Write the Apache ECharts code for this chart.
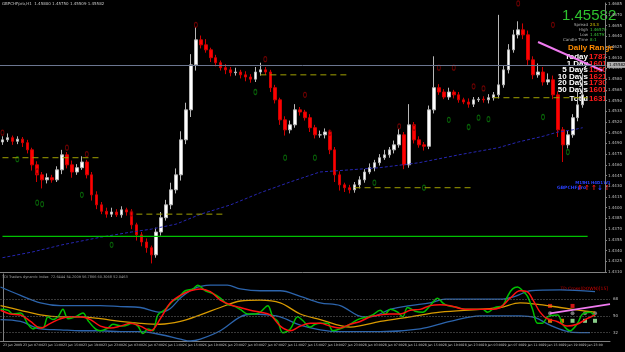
<!DOCTYPE html>
<html>
<head>
<meta charset="utf-8">
<script src="https://cdn.jsdelivr.net/npm/echarts/dist/echarts.min.js"></script>
<style>
  html, body { margin: 0; background: #000; }
  #chart { width: 625px; height: 352px; }
</style>
</head>
<body>
<div id="chart"></div>
<script>
// GBPCHF H1 bars
const opens = [
  1.4492, 1.4495, 1.4498, 1.4493, 1.4496, 1.4491, 1.4481, 1.4460, 1.4446, 1.4439,
  1.4442, 1.4439, 1.4453, 1.4474, 1.4460, 1.4450, 1.4456, 1.4464, 1.4446, 1.4418,
  1.4404, 1.4395, 1.4391, 1.4394, 1.4390, 1.4397, 1.4394, 1.4376, 1.4362, 1.4352,
  1.4344, 1.4334, 1.4366, 1.4386, 1.4404, 1.4425, 1.4446, 1.4495, 1.4537, 1.4600,
  1.4635, 1.4628, 1.4621, 1.4610, 1.4603, 1.4596, 1.4593, 1.4589, 1.4590, 1.4586,
  1.4583, 1.4580, 1.4590, 1.4593, 1.4590, 1.4568, 1.4551, 1.4523, 1.4509, 1.4516,
  1.4537, 1.4534, 1.4526, 1.4512, 1.4502, 1.4502, 1.4506, 1.4481, 1.4446, 1.4432,
  1.4428, 1.4425, 1.4432, 1.4439, 1.4450, 1.4456, 1.4463, 1.4470, 1.4474, 1.4481,
  1.4488, 1.4502, 1.4460, 1.4516, 1.4495, 1.4488, 1.4486, 1.4537, 1.4568, 1.4562,
  1.4555, 1.4562, 1.4558, 1.4551, 1.4548, 1.4545, 1.4551, 1.4552, 1.4551, 1.4554,
  1.4558, 1.4572, 1.4593, 1.4621, 1.4642, 1.4649, 1.4642, 1.4607, 1.4586, 1.4590,
  1.4576, 1.4579, 1.4558, 1.4509, 1.4488, 1.4502, 1.4526, 1.4544
];
const closes = [
  1.4495, 1.4498, 1.4493, 1.4496, 1.4491, 1.4481, 1.4460, 1.4446, 1.4439, 1.4442,
  1.4439, 1.4453, 1.4474, 1.4460, 1.4450, 1.4456, 1.4464, 1.4446, 1.4418, 1.4404,
  1.4395, 1.4391, 1.4394, 1.4390, 1.4397, 1.4394, 1.4376, 1.4362, 1.4352, 1.4344,
  1.4334, 1.4366, 1.4386, 1.4404, 1.4425, 1.4446, 1.4495, 1.4537, 1.4600, 1.4635,
  1.4628, 1.4621, 1.4610, 1.4603, 1.4596, 1.4593, 1.4589, 1.4590, 1.4586, 1.4583,
  1.4580, 1.4590, 1.4593, 1.4590, 1.4568, 1.4551, 1.4523, 1.4509, 1.4516, 1.4537,
  1.4534, 1.4526, 1.4512, 1.4502, 1.4502, 1.4506, 1.4481, 1.4446, 1.4432, 1.4428,
  1.4425, 1.4432, 1.4439, 1.4450, 1.4456, 1.4463, 1.4470, 1.4474, 1.4481, 1.4488,
  1.4502, 1.4460, 1.4516, 1.4495, 1.4488, 1.4486, 1.4537, 1.4568, 1.4562, 1.4555,
  1.4562, 1.4558, 1.4551, 1.4548, 1.4545, 1.4551, 1.4552, 1.4551, 1.4554, 1.4558,
  1.4572, 1.4593, 1.4621, 1.4642, 1.4649, 1.4642, 1.4607, 1.4586, 1.4590, 1.4576,
  1.4579, 1.4558, 1.4509, 1.4488, 1.4502, 1.4526, 1.4544, 1.4558
];
const highs = [
  1.4500, 1.4504, 1.4501, 1.4500, 1.4499, 1.4495, 1.4484, 1.4465, 1.4450, 1.4448,
  1.4446, 1.4458, 1.4481, 1.4478, 1.4466, 1.4461, 1.4472, 1.4467, 1.4450, 1.4423,
  1.4408, 1.4400, 1.4400, 1.4398, 1.4402, 1.4400, 1.4398, 1.4379, 1.4366, 1.4357,
  1.4347, 1.4372, 1.4394, 1.4411, 1.4435, 1.4455, 1.4507, 1.4547, 1.4615, 1.4653,
  1.4641, 1.4636, 1.4624, 1.4614, 1.4606, 1.4601, 1.4597, 1.4596, 1.4593, 1.4591,
  1.4587, 1.4597, 1.4603, 1.4597, 1.4593, 1.4572, 1.4554, 1.4528, 1.4522, 1.4545,
  1.4541, 1.4537, 1.4531, 1.4516, 1.4508, 1.4511, 1.4509, 1.4485, 1.4451, 1.4435,
  1.4432, 1.4436, 1.4444, 1.4454, 1.4462, 1.4467, 1.4475, 1.4481, 1.4485, 1.4494,
  1.4510, 1.4506, 1.4545, 1.4520, 1.4500, 1.4492, 1.4543, 1.4612, 1.4573, 1.4566,
  1.4568, 1.4565, 1.4562, 1.4554, 1.4553, 1.4555, 1.4555, 1.4556, 1.4559, 1.4562,
  1.4670, 1.4599, 1.4629, 1.4649, 1.4661, 1.4658, 1.4648, 1.4612, 1.4602, 1.4597,
  1.4588, 1.4585, 1.4563, 1.4513, 1.4508, 1.4531, 1.4564, 1.4588
];
const lows = [
  1.4488, 1.4492, 1.4488, 1.4489, 1.4485, 1.4476, 1.4452, 1.4436, 1.4427, 1.4434,
  1.4435, 1.4436, 1.4447, 1.4455, 1.4442, 1.4446, 1.4453, 1.4441, 1.4410, 1.4398,
  1.4391, 1.4386, 1.4387, 1.4387, 1.4386, 1.4389, 1.4370, 1.4354, 1.4346, 1.4337,
  1.4322, 1.4330, 1.4361, 1.4382, 1.4398, 1.4420, 1.4438, 1.4489, 1.4527, 1.4592,
  1.4623, 1.4617, 1.4604, 1.4598, 1.4592, 1.4587, 1.4584, 1.4585, 1.4581, 1.4577,
  1.4575, 1.4576, 1.4585, 1.4586, 1.4562, 1.4546, 1.4516, 1.4501, 1.4504, 1.4512,
  1.4529, 1.4522, 1.4506, 1.4497, 1.4498, 1.4497, 1.4475, 1.4436, 1.4424, 1.4422,
  1.4420, 1.4421, 1.4427, 1.4435, 1.4447, 1.4451, 1.4459, 1.4467, 1.4470, 1.4476,
  1.4484, 1.4454, 1.4456, 1.4490, 1.4484, 1.4480, 1.4482, 1.4532, 1.4558, 1.4552,
  1.4551, 1.4553, 1.4547, 1.4545, 1.4540, 1.4541, 1.4548, 1.4547, 1.4546, 1.4550,
  1.4553, 1.4568, 1.4588, 1.4617, 1.4637, 1.4636, 1.4599, 1.4580, 1.4582, 1.4571,
  1.4572, 1.4552, 1.4499, 1.4464, 1.4483, 1.4498, 1.4521, 1.4540
];

// bottom time labels, one every 4 bars
const timeLabels = [
  '23 Jan 2009', '23 Jan 07:00', '23 Jan 11:00', '23 Jan 15:00', '23 Jan 19:00', '23 Jan 23:00',
  '26 Jan 03:00', '26 Jan 07:00', '26 Jan 11:00', '26 Jan 15:00', '26 Jan 19:00', '26 Jan 23:00',
  '27 Jan 03:00', '27 Jan 07:00', '27 Jan 11:00', '27 Jan 15:00', '27 Jan 19:00', '27 Jan 23:00',
  '28 Jan 03:00', '28 Jan 07:00', '28 Jan 11:00', '28 Jan 15:00', '28 Jan 19:00', '28 Jan 23:00',
  '29 Jan 03:00', '29 Jan 07:00', '29 Jan 11:00', '29 Jan 15:00', '29 Jan 19:00', '29 Jan 23:00'
];
const BAR_SLOTS = 122; // bars plus chart shift on the right

// moving average (bar index, price)
const maPoints = [
  [0, 1.4330], [6, 1.4338], [12, 1.4348], [20, 1.4359], [26, 1.4366], [30, 1.4370],
  [35, 1.4377], [40, 1.4391], [46, 1.4404], [52, 1.4421], [58, 1.4436], [64, 1.4450],
  [70, 1.4453], [76, 1.4456], [84, 1.4463], [92, 1.4474], [100, 1.4484], [104, 1.4492],
  [109, 1.4500], [112, 1.4506], [115, 1.4509], [117, 1.4512]
];
const fractalsUp = [
  [0, 1.4505], [7, 1.4451], [13, 1.4484], [17, 1.4475], [26, 1.4392], [39, 1.4656],
  [53, 1.4608], [61, 1.4558], [66, 1.4505], [80, 1.4514], [83, 1.4512], [88, 1.4596],
  [91, 1.4596], [95, 1.4570], [97, 1.4567], [104, 1.4686], [111, 1.4656]
];
const fractalsDown = [
  [3, 1.4468], [7, 1.4407], [8, 1.4405], [16, 1.4418], [22, 1.4348], [51, 1.4562],
  [57, 1.4470], [63, 1.4470], [75, 1.4435], [85, 1.4428], [90, 1.4523], [94, 1.4513],
  [96, 1.4526], [98, 1.4524], [109, 1.4527], [114, 1.4478]
];
// dashed pivot segments: [from bar, to bar, price]
const pivotSegments = [
  [0, 20, 1.4470], [27, 45, 1.4391], [52, 70, 1.4586], [71, 95, 1.4428], [99, 118, 1.4554]
];
const bidPrice = 1.45582;
const topLevel = 1.4680;
const supportLevel = [[0, 1.4360], [118, 1.4360]];
const pinkTrend = [[108, 1.4632], [121, 1.4592]];

// TDI sub window (bar index, value)
const rsiLine = [
  [-0.5, 57], [1, 56], [2, 52], [3.5, 53], [5, 41], [6, 36], [7, 38], [8, 37], [9, 49], [10, 46],
  [11, 49], [12, 57], [13, 47], [14.5, 49], [16, 53], [17, 45], [18.5, 36], [19.5, 34], [21, 37],
  [22, 41], [24, 39], [26, 42], [27, 39], [28, 31], [29, 36], [30, 34], [31, 51], [32.5, 57],
  [34, 66], [35, 69], [36.5, 77], [38, 79], [39, 83], [40.5, 77], [42, 74], [43.5, 69], [45, 62],
  [46, 61], [47.5, 57], [49, 52], [50.5, 52], [51.5, 54], [53, 61], [54, 49], [55, 44], [56, 32],
  [57.5, 36], [59, 49], [60, 45], [61.5, 38], [62.5, 41], [63.5, 42], [65, 42], [66, 34],
  [67.5, 36], [69.5, 41], [71, 46], [73, 49], [74, 51], [75.5, 56], [76.5, 52], [77.5, 57],
  [79, 54], [80, 49], [81, 59], [82.5, 55], [84, 54], [85.5, 61], [87, 69], [88, 64], [89, 61],
  [91, 59], [92.5, 57], [94, 57], [96, 57], [97, 54], [98.5, 59], [100, 61], [101, 71], [102, 79],
  [103, 81], [104, 77], [105, 71], [106, 57], [107, 42], [108, 42], [109, 49], [111, 51],
  [112, 41], [113.5, 34], [115, 42], [116, 52], [117.5, 54], [118.5, 49]
];
const signalLine = [
  [-0.5, 56], [1.5, 52], [3.5, 51], [5.5, 44], [7.5, 37], [9.5, 42], [11.5, 47], [13.5, 49],
  [15.5, 49], [17.5, 46], [19.5, 39], [21.5, 37], [23.5, 39], [25.5, 42], [27.5, 39], [29.5, 34],
  [31.5, 47], [33.5, 64], [35.5, 72], [37.5, 77], [39.5, 79], [41.5, 76], [43.5, 67], [45.5, 62],
  [47.5, 59], [49.5, 56], [51.5, 54], [53.5, 51], [55.5, 39], [57.5, 34], [59.5, 39], [61.5, 42],
  [63.5, 42], [65.5, 39], [67.5, 37], [69.5, 41], [71.5, 44], [73.5, 49], [75.5, 51], [77.5, 52],
  [79.5, 52], [81.5, 56], [83.5, 57], [85.5, 61], [87.5, 62], [89.5, 61], [91.5, 58], [93.5, 57],
  [95.5, 57], [97.5, 57], [99.5, 59], [101.5, 69], [103.5, 77], [104.9, 76], [106.1, 67],
  [107.5, 54], [108.9, 47], [110.9, 44], [112.9, 39], [114.9, 41], [116.9, 47], [118.5, 51]
];
const baseLine = [
  [-0.5, 61], [3.5, 56], [7.5, 51], [11.5, 49], [15.5, 49], [19.5, 47], [23.5, 44], [27.5, 42],
  [31.5, 41], [35.5, 44], [39.5, 51], [43.5, 59], [47.5, 66], [51.5, 67], [55.5, 64], [59.5, 52],
  [63.5, 46], [69.5, 38], [75.5, 44], [81.5, 49], [87.5, 54], [95.5, 57], [99.5, 59], [103.5, 64],
  [107.5, 62], [111.5, 59], [115.5, 56], [118.5, 54]
];
const upperBand = [
  [-0.5, 81], [3.5, 72], [7.5, 64], [11.5, 61], [15.5, 61], [19.5, 61], [23.5, 60], [27.5, 59],
  [31.5, 54], [33.5, 58], [35.5, 69], [38.1, 79], [41.5, 83], [44.9, 83], [47.5, 79], [51.5, 77],
  [55.5, 77], [59.5, 71], [63.5, 64], [67.5, 61], [72.1, 49], [74.5, 50], [77.5, 57], [81.5, 61],
  [85.5, 64], [88.5, 68], [93.5, 68], [99.5, 68], [102.5, 71], [105.5, 77], [111.5, 78], [118.5, 76]
];
const lowerBand = [
  [-0.5, 46], [3.5, 44], [7.5, 36], [11.5, 35], [15.5, 34], [19.5, 34], [23.5, 33], [27.5, 33],
  [31.5, 30], [35.5, 25], [37.5, 23], [39.5, 25], [43.5, 34], [47.5, 49], [50.1, 52], [52.9, 51],
  [55.5, 49], [59.5, 40], [63.5, 35], [67.5, 33], [75.5, 33], [83.5, 36], [89.5, 44], [95.5, 50],
  [99.5, 50], [103.5, 50], [106.5, 48], [109.5, 40], [112.5, 34], [115.5, 32], [117.5, 32]
];
const tdiLevels = [32, 50, 68];
const tdiPink = [[109.5, 52.7], [121.5, 62.7]];
const tdiGrayDots = [[109.5, 52.7], [114, 52.7], [116.5, 52.7], [118.5, 52.7]];
const tdiOrangeSq = [[109.5, 44.7], [111.9, 44.7]];
const tdiGreenSq = [[114, 44.7], [116.5, 44.7], [118.5, 44.7]];
const tdiRedMarks = [[109.5, 60.7], [114, 60.7]];

// info panel texts
const infoLabels = ['Spread', 'High', 'Low', 'Candle Time'];
const infoValues = ['24.3', '1.46570', '1.44791', '8:1'];
const rangeLabels = ['Today', '1 Day', '5 Days', '10 Days', '20 Days', '50 Days', 'Total'];
const rangeValues = ['1787', '1601', '1560', '1621', '1730', '1601', '1631'];
const mtfLabels = ['M15', 'H1', 'H4', 'D1', 'W1'];
const mtfArrows = ['↑', '↑', '↑', '↓', '↑'];

const categories = [];
for (let i = 0; i < BAR_SLOTS; i++) {
  categories.push(i % 4 === 0 && timeLabels[i / 4] ? timeLabels[i / 4] : '');
}
const candles = opens.map((o, i) => [o, closes[i], lows[i], highs[i]]);

const FONT = 'DejaVu Sans';
const tiny = { color: '#c0c0c0', fontSize: 4, fontFamily: FONT };

function text(x, y, str, fill, font, align) {
  return { type: 'text', x, y, silent: true,
    style: { text: str, fill, font, align: align || 'left', verticalAlign: 'middle' } };
}

const graphics = [
  text(2, 4, 'GBPCHFpro,H1  1.45800 1.45750 1.45509 1.45582', '#c8c8c8', '4px ' + FONT),
  text(2, 277, 'TDI Traders dynamic index  72.6444 54.2009 56.7866 60.3068 52.0463', '#a0a0a0', '3.5px ' + FONT),
  text(562, 16, '1.45582', '#2ec22e', '15px Liberation Sans'),
  text(568, 48, 'Daily Range', '#ff8c00', 'bold 8px Liberation Sans'),
  text(608, 289, 'TD Cross(DOWN)[15]', '#d00000', '4.5px ' + FONT, 'right'),
  text(557, 188, 'GBPCHFpro', '#2a40ff', 'bold 4.5px ' + FONT)
];
infoLabels.forEach((l, i) => {
  graphics.push(text(588, 25 + i * 5, l, '#b0b0b0', '4px ' + FONT, 'right'));
  graphics.push(text(590, 25 + i * 5, infoValues[i], i === 0 ? '#e0d000' : '#3ccf3c', '4px ' + FONT));
});
rangeLabels.forEach((l, i) => {
  const y = i === rangeLabels.length - 1 ? 99 : 57 + i * 6.5;
  graphics.push(text(588, y, l, '#ffffff', 'bold 8px Liberation Sans', 'right'));
  graphics.push(text(589, y, rangeValues[i], '#ff1a1a', 'bold 8px Liberation Sans'));
});
const mtfX = [580, 587, 594, 600, 607];
mtfLabels.forEach((l, i) => {
  graphics.push(text(mtfX[i], 183, l, '#2a40ff', 'bold 4px ' + FONT, 'center'));
  graphics.push(text(mtfX[i], 188, mtfArrows[i], mtfArrows[i] === '↓' ? '#2a40ff' : '#ff1a1a', 'bold 7px ' + FONT, 'center'));
});

const pivotSeries = pivotSegments.map(s => ({
  type: 'line', xAxisIndex: 0, yAxisIndex: 0, symbol: 'none', silent: true,
  data: [[s[0], s[2]], [s[1], s[2]]],
  lineStyle: { color: '#a0a000', width: 1, type: [6, 4] }
}));

const tdiLine = (data, color, width) => ({
  type: 'line', xAxisIndex: 2, yAxisIndex: 1, symbol: 'none', smooth: 0.35, silent: true,
  data, lineStyle: { color, width: width || 1.3 }
});
const tdiMarks = (data, symbol, color, size) => ({
  type: 'scatter', xAxisIndex: 2, yAxisIndex: 1, symbol, symbolSize: size || 4, silent: true,
  data, itemStyle: { color }
});

const option = {
  backgroundColor: '#000000',
  animation: false,
  grid: [
    { left: 0, right: 15, top: 3, height: 269 },
    { left: 0, right: 15, top: 274, height: 67 }
  ],
  xAxis: [
    { type: 'category', gridIndex: 0, data: categories, boundaryGap: true,
      axisLine: { lineStyle: { color: '#808080' } }, axisTick: { show: false }, axisLabel: { show: false } },
    { type: 'category', gridIndex: 1, data: categories, boundaryGap: true,
      axisLine: { lineStyle: { color: '#808080' } },
      axisTick: { length: 2, lineStyle: { color: '#808080' }, interval: (i, v) => v !== '' },
      axisLabel: Object.assign({}, tiny, { fontSize: 3.2, interval: 0, align: 'left', margin: 3 }) },
    { type: 'value', gridIndex: 1, min: -0.5, max: BAR_SLOTS - 0.5, show: false }
  ],
  yAxis: [
    { type: 'value', gridIndex: 0, position: 'right', min: 1.4310, max: 1.4310 + 269 * 0.00014,
      interval: 0.0015, splitLine: { show: false },
      axisLine: { show: true, lineStyle: { color: '#808080' } },
      axisTick: { show: true, length: 2, lineStyle: { color: '#808080' } },
      axisLabel: Object.assign({}, tiny, { margin: 3, showMaxLabel: false, formatter: v => v.toFixed(4) }) },
    { type: 'value', gridIndex: 1, position: 'right', min: 23, max: 95, interval: 9,
      splitLine: { show: false },
      axisLine: { show: true, lineStyle: { color: '#808080' } },
      axisTick: { show: false },
      axisLabel: Object.assign({}, tiny, { margin: 3, formatter: v => (tdiLevels.includes(v) ? String(v) : '') }) }
  ],
  graphic: graphics,
  series: [
    {
      type: 'line', xAxisIndex: 0, yAxisIndex: 0, symbol: 'none', silent: true,
      data: maPoints, lineStyle: { color: '#2626b0', width: 1, type: [3, 2] }
    },
    {
      type: 'line', xAxisIndex: 0, yAxisIndex: 0, symbol: 'none', silent: true,
      data: supportLevel, lineStyle: { color: '#00c000', width: 1.2 }
    },
    ...pivotSeries,
    {
      type: 'candlestick', xAxisIndex: 0, yAxisIndex: 0, data: candles, barWidth: 3, silent: true,
      itemStyle: { color: '#ffffff', color0: '#ff0000', borderColor: '#b8b8b8', borderColor0: '#d00000', borderWidth: 1 },
      markLine: {
        silent: true, symbol: 'none',
        data: [
          { yAxis: topLevel, lineStyle: { color: '#2a3a9a', width: 1.2, type: 'solid' }, label: { show: false } },
          { yAxis: bidPrice, lineStyle: { color: '#6b7690', width: 1, type: 'solid' },
            label: { show: true, position: 'end', distance: 2, formatter: '1.45582', fontSize: 4,
              fontFamily: FONT, color: '#000', backgroundColor: '#b0b0b0', padding: [1, 2] } }
        ]
      }
    },
    {
      type: 'scatter', xAxisIndex: 0, yAxisIndex: 0, data: fractalsUp, symbol: 'circle', symbolSize: [3, 5],
      silent: true, itemStyle: { color: 'transparent', borderColor: '#8a0000', borderWidth: 1 }
    },
    {
      type: 'scatter', xAxisIndex: 0, yAxisIndex: 0, data: fractalsDown, symbol: 'circle', symbolSize: [3, 5],
      silent: true, itemStyle: { color: 'transparent', borderColor: '#0a7a0a', borderWidth: 1 }
    },
    {
      type: 'line', xAxisIndex: 0, yAxisIndex: 0, symbol: 'none', silent: true,
      data: pinkTrend, lineStyle: { color: '#f07af0', width: 2 }
    },
    // TDI
    Object.assign(tdiLine(upperBand, '#2c64ac', 1.3), {
      markLine: {
        silent: true, symbol: 'none', label: { show: false },
        lineStyle: { color: '#707070', width: 1, type: [1, 2] },
        data: tdiLevels.map(v => ({ yAxis: v }))
      }
    }),
    tdiLine(lowerBand, '#2c64ac', 1.3),
    tdiLine(baseLine, '#d89a00', 1.3),
    tdiLine(rsiLine, '#00c000', 1.5),
    tdiLine(signalLine, '#ff1010', 1.5),
    Object.assign(tdiLine(tdiPink, '#f07af0', 1.8), { smooth: false }),
    tdiMarks(tdiGrayDots, 'circle', '#909090', 4),
    tdiMarks(tdiOrangeSq, 'rect', '#ff9a00', 4),
    tdiMarks(tdiGreenSq, 'rect', '#aaffaa', 4),
    tdiMarks(tdiRedMarks, 'rect', '#ff1a1a', 4)
  ]
};

const chart = echarts.init(document.getElementById('chart'));
chart.setOption(option);
</script>
</body>
</html>
